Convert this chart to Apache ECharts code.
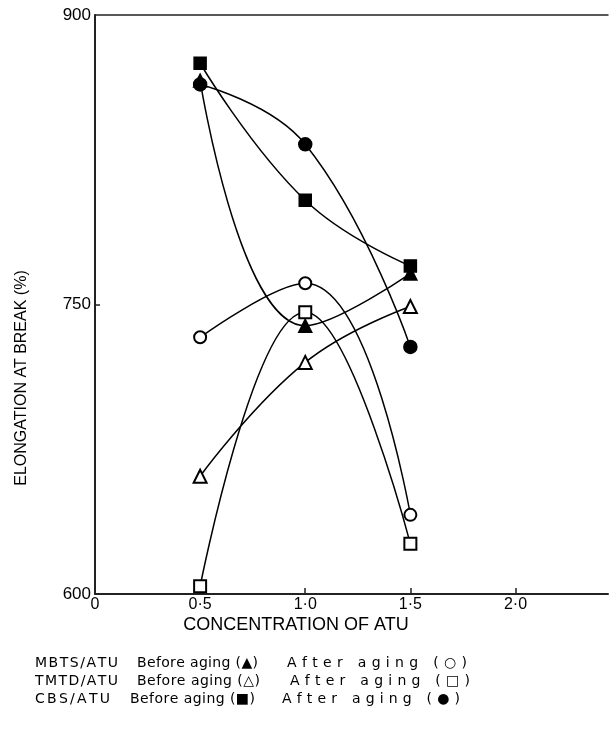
<!DOCTYPE html>
<html>
<head>
<meta charset="utf-8">
<script src="https://cdn.jsdelivr.net/npm/echarts@6/dist/echarts.min.js"></script>
<style>
  html, body { margin: 0; padding: 0; background: #fff; }
  #chart { width: 609px; height: 738px; }
</style>
</head>
<body>
<div id="chart"></div>
<script>
// concentration of ATU (x) and elongation at break (%) for each system
const conc = [0.5, 1.0, 1.5]
const mbtsBefore = [866, 739, 766]
const mbtsAfter = [733, 761, 641]
const tmtdBefore = [661, 720, 749]
const tmtdAfter = [604, 746, 626]
const cbsBefore = [875, 804, 770]
const cbsAfter = [864, 833, 728]

const xTicks = [0, 0.5, 1.0, 1.5, 2.0]
const yTicks = [600, 750, 900]

const legendRows = [
    ['MBTS/ATU', 'Before aging (\u25B2)', 'After aging (\u25CB)'],
    ['TMTD/ATU', 'Before aging (\u25B3)', 'After aging (\u25A1)'],
    ['CBS/ATU', 'Before aging (\u25A0)', 'After aging (\u25CF)']
]

function pairs(ys) {
    return conc.map((x, i) => [x, ys[i]])
}

function lineSeries(name, ys, symbol, size) {
    return {
        name: name,
        type: 'line',
        data: pairs(ys),
        smooth: 0.45,
        symbol: symbol,
        symbolSize: size,
        showAllSymbol: true,
        lineStyle: { color: '#000', width: 1.5 },
        itemStyle: { color: '#000', borderColor: '#000', borderWidth: 1.5 },
        emphasis: { disabled: true },
        z: 3
    }
}

// typewriter-like legend: each piece is stretched to its span with letter spacing
const legendFont = '14px "DejaVu Sans"'
const ctx = document.createElement('canvas').getContext('2d')
ctx.font = legendFont

function spacedText(str, x0, x1, y) {
    const chars = str.split('')
    const widths = chars.map(c => ctx.measureText(c).width)
    const natural = widths.reduce((a, b) => a + b, 0)
    const gap = chars.length > 1 ? (x1 - x0 - natural) / (chars.length - 1) : 0
    let x = x0
    const out = []
    chars.forEach((c, i) => {
        if (c !== ' ') {
            out.push({
                type: 'text',
                x: x,
                y: y,
                style: { text: c, fill: '#000', font: legendFont, verticalAlign: 'middle' }
            })
        }
        x += widths[i] + gap
    })
    return out
}

const legendSpans = [
    [[35, 118], [137, 258], [287, 467]],
    [[35, 118], [137, 260], [290, 470]],
    [[35, 110], [130, 255], [282, 460]]
]
let legendText = []
legendRows.forEach((row, i) => {
    const y = 663 + i * 18
    row.forEach((t, j) => {
        legendText = legendText.concat(spacedText(t, legendSpans[i][j][0], legendSpans[i][j][1], y))
    })
})

const option = {
    animation: false,
    grid: {
        left: 95,
        right: 1,
        top: 15,
        bottom: 144
    },
    xAxis: [
        {
            type: 'value',
            min: 0,
            max: 2.44,
            interval: 0.5,
            axisLine: { lineStyle: { color: '#222', width: 2 } },
            axisTick: {
                inside: true,
                length: 6,
                customValues: xTicks.slice(1),
                lineStyle: { color: '#222', width: 1.5 }
            },
            axisLabel: {
                customValues: xTicks,
                color: '#000',
                fontSize: 16,
                fontFamily: 'Liberation Sans',
                margin: 3,
                formatter: v => v === 0 ? '0' : v.toFixed(1).replace('.', '\u00B7')
            },
            splitLine: { show: false }
        },
        {
            type: 'value',
            position: 'top',
            min: 0,
            max: 2.44,
            axisLine: { show: true, onZero: false, lineStyle: { color: '#222', width: 1.5 } },
            axisTick: { show: false },
            axisLabel: { show: false },
            splitLine: { show: false }
        }
    ],
    yAxis: {
        type: 'value',
        min: 600,
        max: 900,
        interval: 150,
        axisLine: { show: true, lineStyle: { color: '#222', width: 2 } },
        axisTick: {
            show: true,
            inside: true,
            length: 5,
            customValues: [750],
            lineStyle: { color: '#222', width: 1.5 }
        },
        axisLabel: {
            customValues: yTicks,
            color: '#000',
            fontSize: 17,
            fontFamily: 'Liberation Sans',
            margin: 4
        },
        splitLine: { show: false }
    },
    graphic: [
        {
            type: 'text',
            x: 296,
            y: 625,
            style: {
                text: 'CONCENTRATION OF ATU',
                fill: '#000',
                font: '18px "Liberation Sans"',
                align: 'center',
                verticalAlign: 'middle'
            }
        },
        {
            type: 'text',
            x: 22,
            y: 378,
            rotation: Math.PI / 2,
            style: {
                text: 'ELONGATION AT BREAK (%)',
                fill: '#000',
                font: '16px "Liberation Sans"',
                align: 'center',
                verticalAlign: 'middle'
            }
        }
    ].concat(legendText),
    series: [
        lineSeries('TMTD/ATU Before aging', tmtdBefore, 'emptyTriangle', 13),
        lineSeries('MBTS/ATU After aging', mbtsAfter, 'emptyCircle', 12),
        lineSeries('TMTD/ATU After aging', tmtdAfter, 'emptyRect', 12),
        lineSeries('MBTS/ATU Before aging', mbtsBefore, 'triangle', 13),
        lineSeries('CBS/ATU After aging', cbsAfter, 'circle', 13),
        lineSeries('CBS/ATU Before aging', cbsBefore, 'rect', 12)
    ]
}

const myChart = echarts.init(document.getElementById('chart'))
myChart.setOption(option)
</script>
</body>
</html>
